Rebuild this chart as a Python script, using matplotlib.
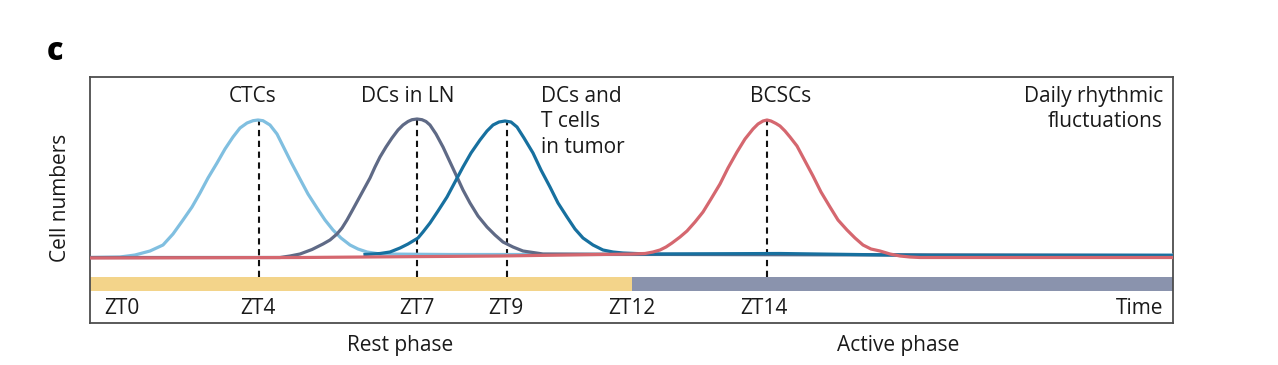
import numpy as np
import matplotlib
matplotlib.use("Agg")
import matplotlib.pyplot as plt

plt.rcParams['font.family'] = ['Open Sans', 'DejaVu Sans']

# schematic coordinates (x: time, arbitrary units; y: cell numbers, arbitrary units)
ctc_x = [0, 30, 45, 60, 73, 83, 93, 102, 110, 118, 127, 135, 143, 150, 157, 163, 168, 173, 180, 187,
         193, 201, 210, 218, 227, 235, 243, 251, 260, 268, 277, 290, 360, 610, 1083]
ctc_y = [65.5, 66, 68, 72, 78, 89, 103, 116, 130, 145, 160, 174, 186, 195, 200, 202.3, 203, 202.3, 198, 189,
         177, 161, 144, 129, 115, 103, 93, 85, 78, 74, 71, 69, 68.5, 68.5, 68]

ln_x = [0, 190, 200, 210, 222, 233, 240, 247, 252, 257, 262, 268, 274, 280, 285, 290, 296, 302, 308, 313,
        318, 322, 327, 332, 336, 340, 346, 353, 360, 367, 373, 380, 388, 397, 405, 413, 423, 433, 453, 610, 1083]
ln_y = [65.5, 65.5, 67, 69, 73.5, 79, 83, 89, 95, 103, 112, 123, 134, 145, 156, 166, 176, 185, 193, 198,
        201.5, 203.3, 204, 203.3, 201.5, 198, 189, 176, 161, 146, 133, 120, 107, 96, 88, 81, 76, 72, 69, 68.5, 67.5]

tum_x = [275, 290, 300, 310, 318, 323, 328, 333, 340, 348, 357, 365, 373, 381, 390, 397, 403, 409, 415, 421,
         427, 434, 443, 451, 460, 468, 477, 485, 493, 503, 513, 523, 533, 545, 560, 690, 840, 1083]
tum_y = [68.5, 69.5, 71, 75, 79, 82, 85, 91, 100, 112, 126, 141, 156, 170, 183, 192, 198, 201, 202, 201,
         196, 185, 170, 153, 136, 120, 106, 94, 85, 78, 73, 71, 70, 69.5, 69, 69.5, 67.5, 67.5]

bcsc_x = [0, 210, 410, 510, 540, 555, 563, 570, 576, 582, 590, 597, 605, 613, 621, 630, 638, 647, 655, 663,
          668, 673, 677, 681, 686, 690, 695, 700, 707, 715, 723, 731, 740, 748, 757, 765, 773, 781, 790, 800,
          810, 820, 830, 1083]
bcsc_y = [65, 65.5, 67, 68.5, 69, 69.5, 71, 73, 76, 80, 86, 92, 101, 111, 124, 139, 155, 171, 184, 194,
          199, 202, 203, 202, 199.5, 197, 192, 186, 177, 162, 147, 131, 116, 103, 93, 85, 78, 74, 72, 69,
          67, 66, 65.5, 65.5]

peaks_x = [169, 327, 417, 677]
peak_top = 203

zt_labels = ['ZT0', 'ZT4', 'ZT7', 'ZT9', 'ZT12', 'ZT14']
zt_pos = [32, 168, 327, 416, 542, 674]
rest_end = 542

fig = plt.figure(figsize=(12.78, 3.65), dpi=100)
ax = fig.add_axes([90/1278, 1-323/365, 1083/1278, 246/365])
ax.set_xlim(0, 1083)
ax.set_ylim(0, 246)
ax.set_xticks([])
ax.set_yticks([])
for s in ax.spines.values():
    s.set_color('#4d4d4d')
    s.set_linewidth(1.3)

# day/night bar
ax.broken_barh([(0, rest_end)], (32, 14), facecolors='#f3d48a')
ax.broken_barh([(rest_end, 1083 - rest_end)], (32, 14), facecolors='#8a93ad')

# dashed peak markers
ax.vlines(peaks_x, 46, peak_top, colors='#111111', linestyles=(0, (3, 2.2)), linewidth=1.5, zorder=2)

lw = 2.3
ax.plot(ctc_x, ctc_y, color='#80bfe0', lw=lw, solid_joinstyle='round', zorder=3)
ax.plot(ln_x, ln_y, color='#5f6a86', lw=lw, solid_joinstyle='round', zorder=4)
ax.plot(tum_x, tum_y, color='#17709f', lw=lw, solid_joinstyle='round', zorder=5)
ax.plot(bcsc_x, bcsc_y, color='#d5676f', lw=lw, solid_joinstyle='round', zorder=6)

fs = 15
tc = '#1a1a1a'
for lab, p in zip(zt_labels, zt_pos):
    ax.text(p, 14, lab, ha='center', va='center', fontsize=fs, color=tc)
ax.text(1073, 14, 'Time', ha='right', va='center', fontsize=fs, color=tc)

ax.text(163, 226, 'CTCs', ha='center', va='center', fontsize=fs, color=tc)
ax.text(318, 226, 'DCs in LN', ha='center', va='center', fontsize=fs, color=tc)
ax.text(451, 237, 'DCs and\nT cells\nin tumor', ha='left', va='top', fontsize=fs,
        linespacing=1.27, color=tc)
ax.text(691, 226, 'BCSCs', ha='center', va='center', fontsize=fs, color=tc)
ax.text(1073, 237, 'Daily rhythmic\nfluctuations', ha='right', va='top', fontsize=fs,
        linespacing=1.27, multialignment='right', color=tc)

ax.text(310, -22, 'Rest phase', ha='center', va='center', fontsize=fs, color=tc, clip_on=False)
ax.text(808, -22, 'Active phase', ha='center', va='center', fontsize=fs, color=tc, clip_on=False)

fig.text(60/1278, 1-198/365, 'Cell numbers', rotation=90, ha='center', va='center', fontsize=fs, color=tc)
fig.text(47/1278, 1-52/365, 'c', ha='left', va='center', fontsize=22, fontweight='heavy', color='black')

fig.savefig('out.png', dpi=100)
